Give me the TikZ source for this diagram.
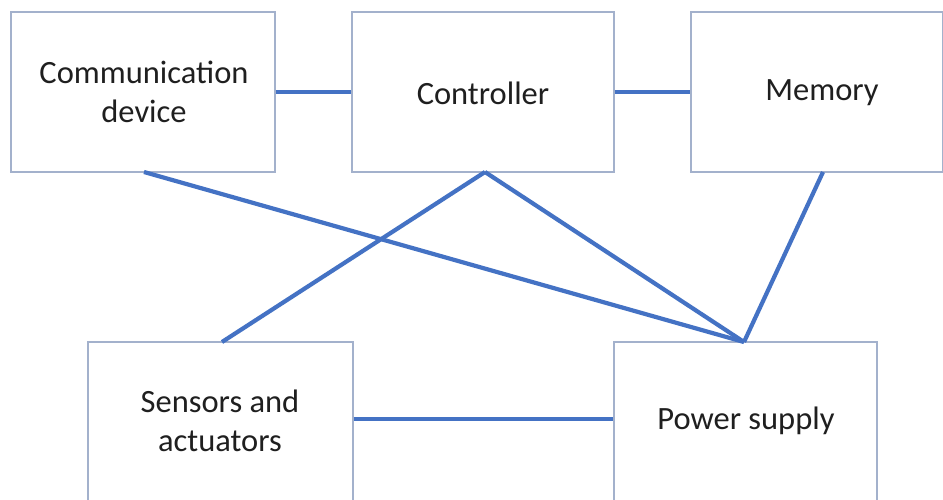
\documentclass[tikz,border=0pt]{standalone}
\usepackage{fontspec}
\setmainfont{Carlito}
\definecolor{boxline}{HTML}{A3B1CC}
\definecolor{conn}{HTML}{4472C4}
\begin{document}
\begin{tikzpicture}[x=1pt,y=-1pt,
  blk/.style={draw=boxline,line width=1.3pt,fill=white,rectangle,align=center,inner sep=0pt,
    font=\fontsize{32.5}{39}\selectfont,text=black!88},
  lbl/.style={font=\fontsize{32.5}{39}\selectfont,text=black!88,align=center,inner sep=0pt},
  wire/.style={draw=conn,line width=4.2pt}]
\useasboundingbox (0,0) rectangle (943,500);
\clip (0,0) rectangle (943,500);
\fill[white] (0,0) rectangle (943,500);
% boxes
\node[blk,minimum width=264pt,minimum height=160pt] (comm) at (143,92) {};
\node[blk,minimum width=262pt,minimum height=160pt] (ctrl) at (483,92) {};
\node[blk,minimum width=252pt,minimum height=160pt] (mem) at (817,92) {};
\node[blk,minimum width=265pt,minimum height=170pt] (sens) at (220.5,427) {};
\node[blk,minimum width=263pt,minimum height=170pt] (pow) at (745.5,427) {};
% labels
\node[lbl] (commt) at (144,92) {Communication\\device};
\node[lbl] (ctrlt) at (483,93) {Controller};
\node[lbl] (memt) at (822,93) {Memory};
\node[lbl] (senst) at (220,421) {Sensors and\\actuators};
\node[lbl] (powt) at (746,421) {Power supply};
% connection points
\coordinate (commB) at (144,172);
\coordinate (ctrlB) at (485,172);
\coordinate (memB) at (823,172);
\coordinate (sensT) at (222,342);
\coordinate (powT) at (744,342);
% connectors
\draw[wire] (comm.east |- 0,92) -- (ctrl.west |- 0,92);
\draw[wire] (ctrl.east |- 0,92) -- (mem.west |- 0,92);
\draw[wire] (sens.east |- 0,419) -- (pow.west |- 0,419);
\draw[wire] (commB) -- (powT);
\draw[wire] (ctrlB) -- (sensT);
\draw[wire] (ctrlB) -- (powT);
\draw[wire] (memB) -- (powT);
\end{tikzpicture}
\end{document}
